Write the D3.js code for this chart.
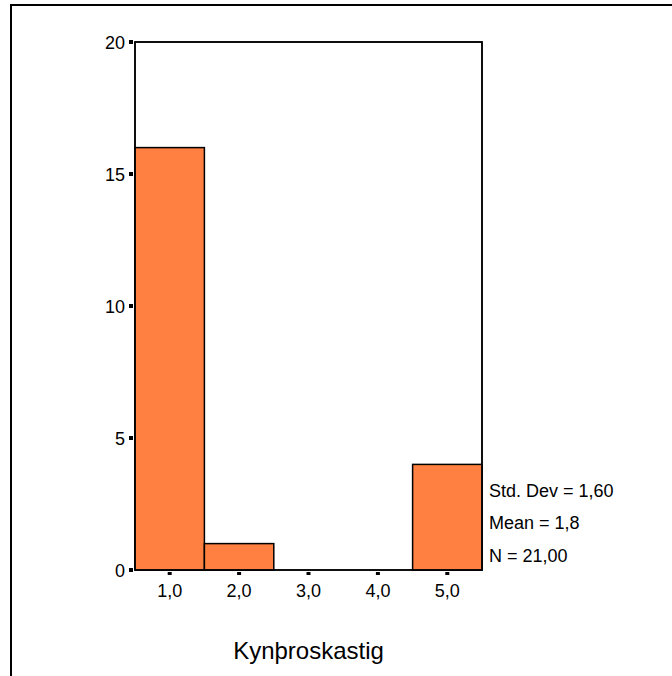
<!DOCTYPE html>
<html>
<head>
<meta charset="utf-8">
<script src="https://cdn.jsdelivr.net/npm/d3@7"></script>
<style>
  html, body { margin: 0; padding: 0; background: #fff; }
  svg { display: block; }
  text { font-family: "Liberation Sans", Arial, sans-serif; fill: #000; }
</style>
</head>
<body>
<svg id="chart" width="672" height="676"></svg>
<script>
const binCenters = [1, 2, 3, 4, 5];
const counts = [16, 1, 0, 0, 4];
const xTickLabels = ["1,0", "2,0", "3,0", "4,0", "5,0"];
const yTicks = [0, 5, 10, 15, 20];
const statLines = ["Std. Dev = 1,60", "Mean = 1,8", "N = 21,00"];
const xTitle = "Kynþroskastig";

const svg = d3.select("#chart");
const plot = { left: 135, right: 482, top: 42, bottom: 570 };

const x = d3.scaleLinear().domain([0.5, 5.5]).range([plot.left, plot.right]);
const y = d3.scaleLinear().domain([0, 20]).range([plot.bottom, plot.top]);

// outer frame (extends beyond the window on right and bottom)
svg.append("rect")
  .attr("x", 11).attr("y", 5)
  .attr("width", 700).attr("height", 700)
  .attr("fill", "none").attr("stroke", "#000").attr("stroke-width", 2);

// plot frame
svg.append("rect")
  .attr("x", plot.left).attr("y", plot.top)
  .attr("width", plot.right - plot.left).attr("height", plot.bottom - plot.top)
  .attr("fill", "#fff").attr("stroke", "#000").attr("stroke-width", 1.5);

// bars
const data = binCenters.map((c, i) => ({ c, v: counts[i] }));
svg.append("g").selectAll("rect").data(data.filter(d => d.v > 0)).join("rect")
  .attr("x", d => x(d.c - 0.5))
  .attr("y", d => y(d.v))
  .attr("width", d => x(d.c + 0.5) - x(d.c - 0.5))
  .attr("height", d => y(0) - y(d.v))
  .attr("fill", "#ff8040")
  .attr("stroke", "#000").attr("stroke-width", 1.5);

// redraw frame edges on top
svg.append("rect")
  .attr("x", plot.left).attr("y", plot.top)
  .attr("width", plot.right - plot.left).attr("height", plot.bottom - plot.top)
  .attr("fill", "none").attr("stroke", "#000").attr("stroke-width", 1.5);

// y axis ticks (small squares) and labels
const yAxis = svg.append("g");
yAxis.selectAll("rect").data(yTicks).join("rect")
  .attr("x", plot.left - 6).attr("y", d => y(d) - 2)
  .attr("width", 4).attr("height", 4).attr("fill", "#000");
yAxis.selectAll("text").data(yTicks).join("text")
  .attr("x", plot.left - 10).attr("y", d => y(d) + 7)
  .attr("text-anchor", "end").attr("font-size", 18)
  .text(d => d);

// x axis ticks and labels
const xAxis = svg.append("g");
xAxis.selectAll("rect").data(binCenters).join("rect")
  .attr("x", d => x(d) - 2).attr("y", plot.bottom + 2)
  .attr("width", 4).attr("height", 3).attr("fill", "#000");
xAxis.selectAll("text").data(binCenters).join("text")
  .attr("x", d => x(d)).attr("y", plot.bottom + 27)
  .attr("text-anchor", "middle").attr("font-size", 18)
  .text((d, i) => xTickLabels[i]);

// axis title
svg.append("text")
  .attr("x", (plot.left + plot.right) / 2).attr("y", 659)
  .attr("text-anchor", "middle").attr("font-size", 24)
  .text(xTitle);

// statistics
const statY = [497, 529, 562];
svg.append("g").selectAll("text").data(statLines).join("text")
  .attr("x", 489).attr("y", (d, i) => statY[i])
  .attr("font-size", 18)
  .text(d => d);
</script>
</body>
</html>
